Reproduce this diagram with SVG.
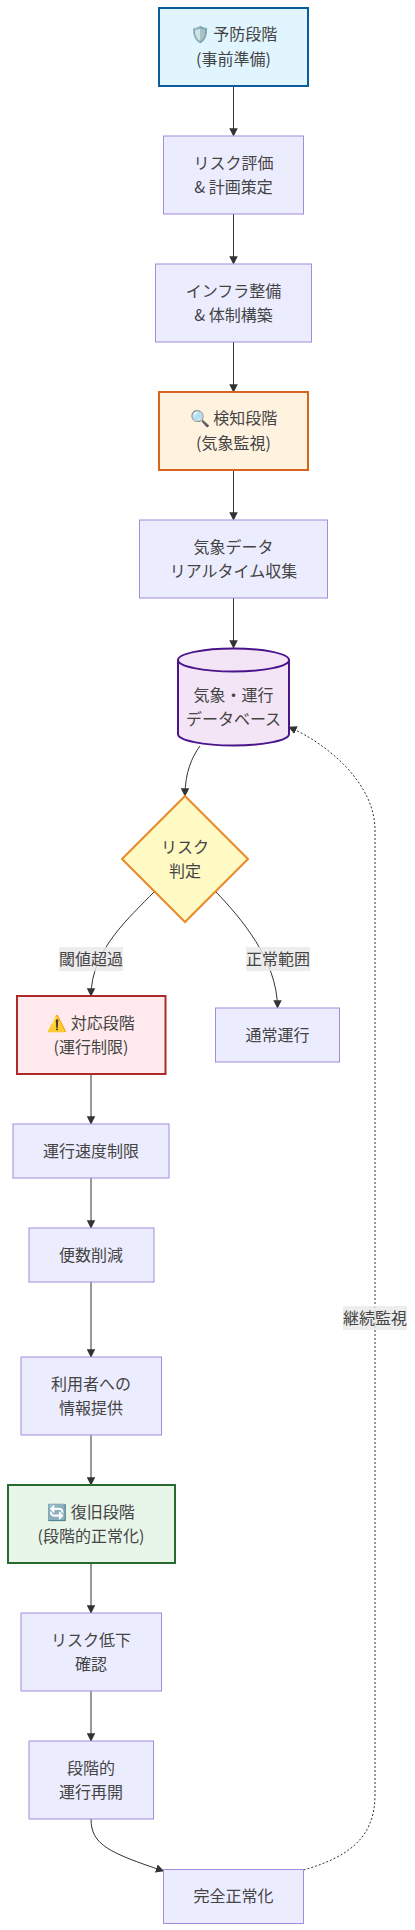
<svg xmlns="http://www.w3.org/2000/svg" width="415" height="1930" viewBox="0 0 415 1930">
<defs>
<marker id="arrow" viewBox="0 0 10 10" refX="9" refY="5" markerWidth="8.500" markerHeight="8.500" markerUnits="userSpaceOnUse" orient="auto"><path d="M0 0L10 5L0 10z" fill="#333"/></marker>
</defs>
<style>
text{font-family:"Noto Sans CJK JP","Noto Sans CJK SC","Liberation Sans",sans-serif;font-size:16px;fill:#444;text-anchor:middle}
.n{fill:#ececff;stroke:#a28cdc;stroke-width:1}
.e{fill:none;stroke:#333;stroke-width:1;marker-end:url(#arrow)}
.lb{fill:#e8e8e8;opacity:.8}
</style>
<rect width="415" height="1930" fill="#fff"/>
<g id="connectors">
<path class="e" d="M233.500 86V136"/>
<path class="e" d="M233.500 214V264"/>
<path class="e" d="M233.500 342V392"/>
<path class="e" d="M233.500 470V520"/>
<path class="e" d="M233.500 598V648"/>
<path class="e" d="M200 746C192 757 185 772 185 796"/>
<path class="e" d="M154 892C130 917 91 950 91 996"/>
<path class="e" d="M216 892C240 917 277.500 960 277.500 1008"/>
<path class="e" d="M91 1074V1124"/>
<path class="e" d="M91 1178V1228"/>
<path class="e" d="M91 1282V1357"/>
<path class="e" d="M91 1435V1485"/>
<path class="e" d="M91 1563V1613"/>
<path class="e" d="M91 1691V1741"/>
<path class="e" d="M91 1819C91 1845 110 1853 163.500 1871"/>
<path class="e" stroke-dasharray="2" d="M303.500 1870C345 1858 375 1840 375 1795V830C375 785 330 745 289 727"/>
</g>
<g id="edge-labels">
<g><rect class="lb" x="59" y="947" width="64" height="24"/><text x="91" y="965">閾値超過</text></g>
<g><rect class="lb" x="246" y="947" width="64" height="24"/><text x="278" y="965">正常範囲</text></g>
<g><rect class="lb" x="343" y="1306" width="64" height="24"/><text x="375" y="1324">継続監視</text></g>
</g>
<g id="n1"><rect x="159" y="8" width="149" height="78" fill="#e1f5fe" stroke="#0b5c98" stroke-width="2"/><text x="233.500" y="40">🛡️ 予防段階</text><text x="233.500" y="65">(事前準備)</text></g>
<g id="n2"><rect class="n" x="163.500" y="136" width="140" height="78"/><text x="233.500" y="169">リスク評価</text><text x="233.500" y="193">&amp; 計画策定</text></g>
<g id="n3"><rect class="n" x="155.500" y="264" width="156" height="78"/><text x="233.500" y="297">インフラ整備</text><text x="233.500" y="321">&amp; 体制構築</text></g>
<g id="n4"><rect x="159" y="392" width="149" height="78" fill="#fff3e0" stroke="#d8641f" stroke-width="2"/><text x="233.500" y="424">🔍 検知段階</text><text x="233.500" y="449">(気象監視)</text></g>
<g id="n5"><rect class="n" x="139.500" y="520" width="188" height="78"/><text x="233.500" y="553">気象データ</text><text x="233.500" y="577">リアルタイム収集</text></g>
<g id="db"><path d="M178 660A55.500 11.500 0 0 1 289 660V734A55.500 11.500 0 0 1 178 734Z" fill="#f3e5f5" stroke="#4a148c" stroke-width="2"/><path d="M178 660A55.500 11.500 0 0 0 289 660" fill="none" stroke="#4a148c" stroke-width="2"/><text x="233.500" y="701">気象・運行</text><text x="233.500" y="725">データベース</text></g>
<g id="decision"><polygon points="185,796 248,859 185,922 122,859" fill="#fff9c4" stroke="#e88a28" stroke-width="2"/><text x="185" y="853">リスク</text><text x="185" y="877">判定</text></g>
<g id="n6"><rect x="17" y="996" width="148.500" height="78" fill="#ffebee" stroke="#ad2a2a" stroke-width="2"/><text x="91" y="1029">⚠️ 対応段階</text><text x="91" y="1053">(運行制限)</text></g>
<g id="n7"><rect class="n" x="215.500" y="1008" width="124" height="54"/><text x="277.500" y="1041">通常運行</text></g>
<g id="n8"><rect class="n" x="13" y="1124" width="156" height="54"/><text x="91" y="1157">運行速度制限</text></g>
<g id="n9"><rect class="n" x="29" y="1228" width="125" height="54"/><text x="91" y="1261">便数削減</text></g>
<g id="n10"><rect class="n" x="21" y="1357" width="140.500" height="78"/><text x="91" y="1390">利用者への</text><text x="91" y="1414">情報提供</text></g>
<g id="n11"><rect x="8" y="1485" width="167" height="78" fill="#e8f5e9" stroke="#2a6a30" stroke-width="2"/><text x="91" y="1518">🔄 復旧段階</text><text x="91" y="1542">(段階的正常化)</text></g>
<g id="n12"><rect class="n" x="21" y="1613" width="140.500" height="78"/><text x="91" y="1646">リスク低下</text><text x="91" y="1670">確認</text></g>
<g id="n13"><rect class="n" x="29" y="1741" width="124.500" height="78"/><text x="91" y="1774">段階的</text><text x="91" y="1798">運行再開</text></g>
<g id="n14"><rect class="n" x="163.500" y="1869.500" width="140" height="54"/><text x="233.500" y="1902">完全正常化</text></g>
</svg>
